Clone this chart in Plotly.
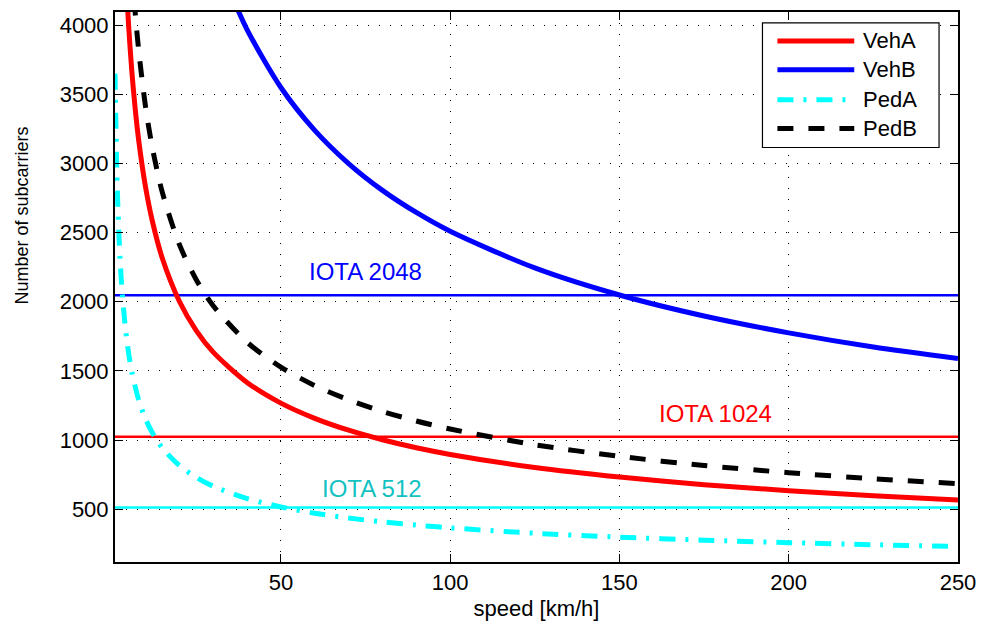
import plotly.graph_objects as go

# ---- data ----
vehA_speed = [4, 5, 6, 7, 8, 10, 12, 15, 20, 25, 30, 40, 50, 60, 70, 80, 90, 100, 125, 150, 175, 200, 225, 250]
vehA_n = [4480, 4007, 3658, 3387, 3168, 2833, 2587, 2313, 2004, 1792, 1636, 1417, 1267, 1157, 1071, 1002, 944, 896, 801, 732, 677, 634, 597, 567]

vehB_speed = [35, 40, 50, 60, 70, 80, 90, 100, 125, 150, 175, 200, 225, 250]
vehB_n = [4243, 3969, 3550, 3240, 3000, 2806, 2646, 2510, 2245, 2049, 1897, 1775, 1673, 1590]

pedA_speed = [1, 1.5, 2, 2.5, 3, 4, 5, 6, 8, 10, 12, 15, 20, 25, 30, 40, 50, 60, 70, 80, 90, 100, 125, 150, 175, 200, 225, 250]
pedA_n = [3650, 2980, 2581, 2308, 2107, 1825, 1632, 1490, 1290, 1154, 1054, 942, 816, 730, 666, 577, 516, 471, 436, 408, 385, 365, 326, 298, 276, 258, 243, 231]

pedB_speed = [6, 7, 8, 10, 12, 15, 20, 25, 30, 40, 50, 60, 70, 80, 90, 100, 125, 150, 175, 200, 225, 250]
pedB_n = [4409, 4082, 3818, 3415, 3118, 2789, 2415, 2160, 1972, 1708, 1527, 1394, 1291, 1207, 1138, 1080, 966, 882, 816, 764, 720, 685]

iota_levels = [2048, 1024, 512]
iota_labels = ["IOTA 2048", "IOTA 1024", "IOTA 512"]
speed_span = [1, 250]

x_ticks = [50, 100, 150, 200, 250]
y_ticks = [500, 1000, 1500, 2000, 2500, 3000, 3500, 4000]

series_names = ["VehA", "VehB", "PedA", "PedB"]

# ---- styles ----
FONT = "Liberation Sans, Arial, sans-serif"
colors = {"VehA": "#FF0000", "VehB": "#0000FF", "PedA": "#00FFFF", "PedB": "#000000"}
dashes = {"VehA": "solid", "VehB": "solid", "PedA": "16px,10px,3px,10px", "PedB": "16px,15px"}
iota_colors = ["#0000FF", "#FF0000", "#00FFFF"]
iota_text_colors = ["#0000FF", "#FF0000", "#12C2C2"]

fig = go.Figure()

# IOTA horizontal reference lines
for lvl, col in zip(iota_levels, iota_colors):
    fig.add_trace(go.Scatter(x=speed_span, y=[lvl, lvl], mode="lines",
                             line=dict(color=col, width=2.5), showlegend=False, hoverinfo="skip"))

data = {"VehA": (vehA_speed, vehA_n), "VehB": (vehB_speed, vehB_n),
        "PedA": (pedA_speed, pedA_n), "PedB": (pedB_speed, pedB_n)}
for name in series_names:
    xs, ys = data[name]
    fig.add_trace(go.Scatter(x=xs, y=ys, mode="lines", name=name,
                             line=dict(color=colors[name], width=5, dash=dashes[name], shape="spline", smoothing=0.8),
                             showlegend=False))

# IOTA text labels
label_pos = [(75, 2222), (178.5, 1195), (77, 651)]
for (lx, ly), txt, col in zip(label_pos, iota_labels, iota_text_colors):
    fig.add_annotation(x=lx, y=ly, text=txt, showarrow=False,
                       font=dict(family=FONT, size=24, color=col))

# custom legend (paper coordinates)
L, R, T, B = 115, 960, 10, 562
def px(xp):
    return (xp - L) / (R - L)
def py(yp):
    return (B - yp) / (B - T)

fig.add_shape(type="rect", xref="paper", yref="paper", x0=px(764), x1=px(941), y0=py(146), y1=py(21),
              line=dict(color="black", width=1.2), fillcolor="white", layer="above")
rows = [39, 68, 98, 127]
for name, ry in zip(series_names, rows):
    fig.add_shape(type="line", xref="paper", yref="paper", x0=px(779), x1=px(856), y0=py(ry), y1=py(ry),
                  line=dict(color=colors[name], width=5, dash=dashes[name]), layer="above")
    fig.add_annotation(xref="paper", yref="paper", x=px(863), y=py(ry), text=name, showarrow=False,
                       xanchor="left", yanchor="middle", font=dict(family=FONT, size=22, color="black"))

# y-axis title
fig.add_annotation(xref="paper", yref="paper", x=px(22), y=py(214), text="Number of subcarriers",
                   textangle=-90, showarrow=False, xanchor="center", yanchor="middle",
                   font=dict(family=FONT, size=18, color="black"))

axis_common = dict(showline=True, linecolor="black", linewidth=2, mirror="ticks",
                   ticks="inside", ticklen=8, tickwidth=1, tickcolor="black",
                   showgrid=True, gridcolor="black", gridwidth=1, griddash="1px,10px",
                   zeroline=False, tickfont=dict(family=FONT, size=22, color="black"))

fig.update_xaxes(range=[1, 250], tickvals=x_ticks, ticktext=[str(v) for v in x_ticks],
                 title=dict(text="speed [km/h]", font=dict(family=FONT, size=22, color="black"), standoff=6),
                 **axis_common)
fig.update_yaxes(range=[118, 4096], tickvals=y_ticks, ticktext=[str(v) for v in y_ticks],
                 **axis_common)

fig.update_layout(width=986, height=630, autosize=False,
                  margin=dict(l=L, r=986 - R, t=T, b=630 - B),
                  paper_bgcolor="white", plot_bgcolor="white",
                  font=dict(family=FONT, color="black"), showlegend=False)

fig.write_html("out.html")
